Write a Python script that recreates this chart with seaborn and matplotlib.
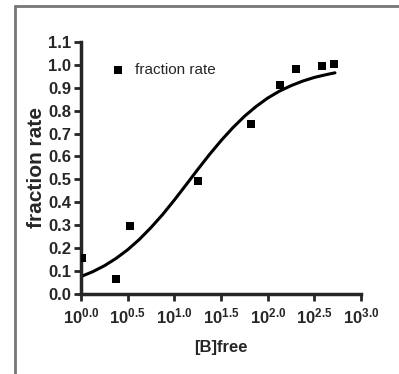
import matplotlib
matplotlib.use("Agg")
import matplotlib.pyplot as plt
from matplotlib.lines import Line2D
import pandas as pd
import seaborn as sns

# measured points, x in log10([B]free)
log_b = [0.01, 0.37, 0.52, 1.25, 1.82, 2.13, 2.30, 2.58, 2.71]
fraction = [0.155, 0.064, 0.297, 0.495, 0.742, 0.913, 0.983, 0.995, 1.003]

# fitted curve
fit_x = [0.0, 0.125, 0.25, 0.375, 0.5, 0.625, 0.75, 0.875, 1.0, 1.125, 1.25,
         1.375, 1.5, 1.625, 1.75, 1.875, 2.0, 2.125, 2.25, 2.375, 2.5, 2.625, 2.72]
fit_y = [0.076, 0.097, 0.123, 0.155, 0.193, 0.238, 0.290, 0.347, 0.410, 0.476, 0.543,
         0.608, 0.669, 0.725, 0.775, 0.818, 0.855, 0.885, 0.909, 0.929, 0.945, 0.957, 0.965]

x_ticks = [0.0, 0.5, 1.0, 1.5, 2.0, 2.5, 3.0]
y_ticks = [0.0, 0.1, 0.2, 0.3, 0.4, 0.5, 0.6, 0.7, 0.8, 0.9, 1.0, 1.1]

sns.set_style("ticks")
plt.rcParams["font.family"] = ["Liberation Sans", "DejaVu Sans"]
plt.rcParams["mathtext.fontset"] = "custom"
plt.rcParams["mathtext.rm"] = "Liberation Sans:bold"
plt.rcParams["mathtext.bf"] = "Liberation Sans:bold"

df = pd.DataFrame({"x": log_b, "y": fraction})
fit = pd.DataFrame({"x": fit_x, "y": fit_y})

fig = plt.figure(figsize=(3.99, 3.74), dpi=100)
ax = fig.add_axes([0.203, 0.214, 0.702, 0.674])

sns.lineplot(data=fit, x="x", y="y", ax=ax, color="black", linewidth=2.2,
             sort=False, legend=False)
sns.scatterplot(data=df, x="x", y="y", ax=ax, marker="s", s=38, color="black",
                edgecolor="black", linewidth=0, label="fraction rate", zorder=3)

ax.set_xlim(0, 3.0)
ax.set_ylim(0, 1.1)
ax.set_xticks(x_ticks)
ax.set_xticklabels([r"$\mathbf{10^{%.1f}}$" % t for t in x_ticks])
ax.set_yticks(y_ticks)
ax.set_yticklabels([f"{t:.1f}" for t in y_ticks], fontweight="bold")
ax.tick_params(axis="both", length=5, width=2, labelsize=12, direction="out", pad=2)
ax.tick_params(axis="x", pad=4)

sns.despine(ax=ax)
for side in ["left", "bottom"]:
    ax.spines[side].set_linewidth(2.5)

ax.set_xlabel("[B]free", fontsize=12, fontweight="bold", labelpad=10)
ax.set_ylabel("fraction rate", fontsize=15, fontweight="bold")
ax.yaxis.set_label_coords(-0.125, 0.5)

ax.legend(loc="center left", bbox_to_anchor=(0.281, 0.813),
          bbox_transform=fig.transFigure, frameon=False, fontsize=11,
          handlelength=0.8, handletextpad=0.7, borderpad=0, borderaxespad=0)

# grey frame around the figure (top and left edges)
fig.add_artist(Line2D([0.037, 1.0], [0.985, 0.985], transform=fig.transFigure,
                      color="#777777", linewidth=2))
fig.add_artist(Line2D([0.037, 0.037], [0.0, 0.985], transform=fig.transFigure,
                      color="#777777", linewidth=2))

fig.savefig("out.png", dpi=100)
